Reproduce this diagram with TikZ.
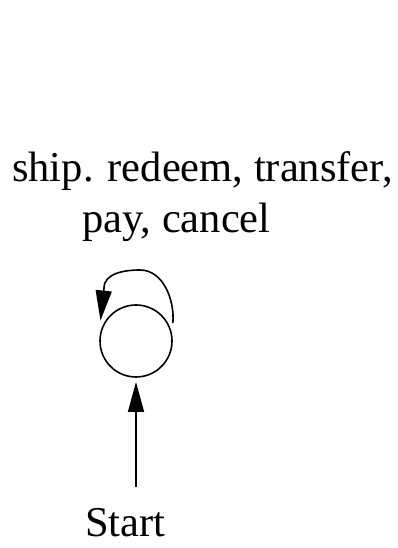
\documentclass[tikz,border=0pt]{standalone}
\usepackage{fontspec}
\setmainfont{Liberation Serif}
\usetikzlibrary{arrows.meta}

\begin{document}
\begin{tikzpicture}[
  x=1pt, y=1pt,
  state/.style={
    circle,
    draw,
    line width=1.6pt,
    minimum size=72pt,
    inner sep=0pt,
    outer sep=5pt
  },
  edge/.style={
    -{Triangle[length=30pt,width=16pt]},
    line width=1.6pt
  },
  txt/.style={
    anchor=base west,
    inner sep=0pt,
    font=\fontsize{42.5}{51}\selectfont
  }
]

\path[use as bounding box] (0,0) rectangle (398,548);

\node[state] (s0) at (136,207) {};
\coordinate (init) at (136,61);
\coordinate (looptop) at ([xshift=4pt,yshift=71pt]s0.center);
\coordinate (loopleft) at ([xshift=-32pt,yshift=53pt]s0.center);

\node[txt] (ev1) at (12,366) {ship. redeem, transfer,};
\node[txt] (ev2) at (82,315) {pay, cancel};
\node[txt] (start) at (85,11) {Start};

\draw[edge] (init) -- (s0);
\draw[edge] (s0.26) to[out=85,in=0,looseness=0.95] (looptop)
  to[out=180,in=90,looseness=0.95] (loopleft) -- (s0.150);

\end{tikzpicture}
\end{document}
